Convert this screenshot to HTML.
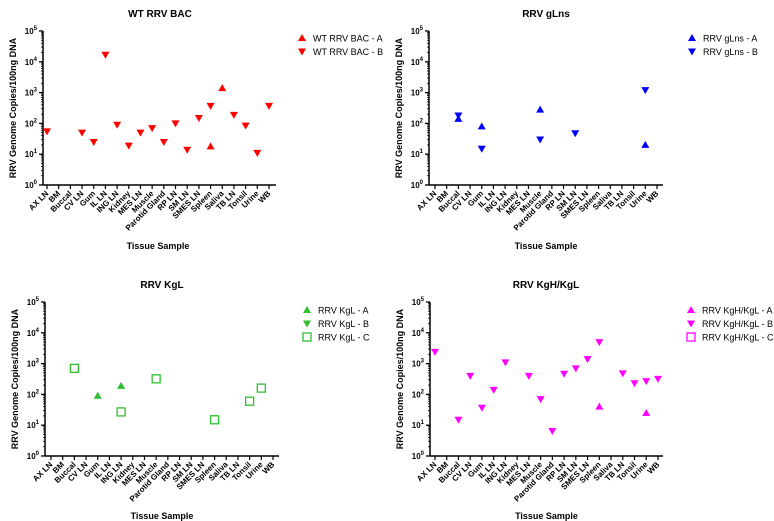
<!DOCTYPE html>
<html><head><meta charset="utf-8">
<style>
html,body{margin:0;padding:0;background:#fff;}
svg{display:block;font-family:"Liberation Sans",Arial,sans-serif;}
</style></head>
<body>
<svg id="c" width="774" height="521" viewBox="0 0 774 521" xmlns="http://www.w3.org/2000/svg"></svg>
<script>
const categories = ["AX LN","BM","Buccal","CV LN","Gum","IL LN","ING LN","Kidney","MES LN","Muscle","Parotid Gland","RP LN","SM LN","SMES LN","Spleen","Saliva","TB LN","Tonsil","Urine","WB"];
const yTickExps = [0,1,2,3,4,5];
// WT RRV BAC
const wtA = {"Spleen":18,"Saliva":1400};
const wtB = {"AX LN":55,"CV LN":50,"Gum":25,"IL LN":17000,"ING LN":90,"Kidney":19,"MES LN":50,"Muscle":70,"Parotid Gland":25,"RP LN":100,"SM LN":14,"SMES LN":150,"Spleen":370,"TB LN":190,"Tonsil":85,"Urine":11,"WB":370};
// RRV gLns
const glA = {"Buccal":140,"Gum":80,"Muscle":280,"Urine":20};
const glB = {"Buccal":180,"Gum":15,"Muscle":30,"SM LN":48,"Urine":1200};
// RRV KgL
const kgA = {"Gum":90,"ING LN":190};
const kgB = {};
const kgC = {"Buccal":700,"ING LN":27,"Muscle":320,"Spleen":15,"Tonsil":60,"Urine":160};
// RRV KgH/KgL
const khA = {"Spleen":40,"Urine":25};
const khB = {"AX LN":2400,"Buccal":15,"CV LN":400,"Gum":37,"IL LN":140,"ING LN":1100,"MES LN":400,"Muscle":70,"Parotid Gland":6.5,"RP LN":470,"SM LN":700,"SMES LN":1400,"Spleen":5000,"TB LN":480,"Tonsil":230,"Urine":270,"WB":320};
const khC = {};

const NS="http://www.w3.org/2000/svg";
const svg=document.getElementById('c');
function mk(tag,attrs,parent){const e=document.createElementNS(NS,tag);for(const k in attrs)e.setAttribute(k,attrs[k]);(parent||svg).appendChild(e);return e;}

function marker(g,type,x,y,color){
  let e;
  if(type==='up') e=mk('polygon',{points:`${x},${y-4} ${x-4},${y+3} ${x+4},${y+3}`,fill:color},g);
  else if(type==='down') e=mk('polygon',{points:`${x-4},${y-3} ${x+4},${y-3} ${x},${y+4}`,fill:color},g);
  else e=mk('rect',{x:x-4,y:y-4,width:8,height:8,fill:'none',stroke:color,'stroke-width':1.3},g);
  return e;
}

function panel(p){
  const g=mk('g',{});
  
  
  const yS=v=>p.bottom-Math.log10(v)*(p.bottom-p.top)/5;
  const xS=i=>p.x0+i*(p.x1-p.x0)/(categories.length-1);
  let t=mk('text',{x:p.tc,y:p.top-14,'text-anchor':'middle','font-size':10,'font-weight':'bold'},g);t.textContent=p.title;
  
  // axes
  const ax=mk('g',{stroke:'#000','stroke-width':1.5},g);
  
  mk('line',{x1:p.ax,y1:p.top,x2:p.ax,y2:p.bottom},ax);
  mk('line',{x1:p.ax,y1:p.bottom,x2:p.xend,y2:p.bottom},ax);
  yTickExps.forEach(e=>{
    const y=yS(Math.pow(10,e));
    mk('line',{x1:p.ax-4,y1:y,x2:p.ax,y2:y,'stroke-width':1.3},ax);
    if(e<5)for(let m=2;m<10;m++){const yy=yS(m*Math.pow(10,e));mk('line',{x1:p.ax-2,y1:yy,x2:p.ax,y2:yy,'stroke-width':0.8},ax);}
    const tx=mk('text',{x:p.ax-6,y:y+3,'text-anchor':'end','font-size':8,'font-weight':'bold',stroke:'none'},g);
    tx.textContent='10';
    const sp=mk('tspan',{dy:-4,'font-size':6},tx);sp.textContent=e;
  });
  categories.forEach((c,i)=>{
    const x=xS(i);
    mk('line',{x1:x,y1:p.bottom,x2:x,y2:p.bottom+4,stroke:'#000','stroke-width':1.2},g);
    const tx=mk('text',{x:x+2,y:p.bottom+9,'text-anchor':'end','font-size':8,'font-weight':'bold',transform:`rotate(-45 ${x+2} ${p.bottom+9})`},g);
    tx.textContent=c;
    
  });
  const yl=mk('text',{x:0,y:0,'text-anchor':'middle','font-size':9,'font-weight':'bold',transform:`translate(${p.ax-27} ${(p.top+p.bottom)/2}) rotate(-90)`},g);
  yl.textContent='RRV Genome Copies/100ng DNA';
  
  const xl=mk('text',{x:(p.x0+p.x1)/2,y:p.xty,'text-anchor':'middle','font-size':9,'font-weight':'bold'},g);
  xl.textContent='Tissue Sample';
  
  p.series.forEach((s,si)=>{
    categories.forEach((c,i)=>{
      if(s.data[c]===undefined)return;
      const m=marker(g,s.type,xS(i),yS(s.data[c]),p.color);
      
      
    });
    const ly=p.ly+si*13.5;
    const lg=mk('g',{},g);
    
    
    marker(lg,s.type,p.lx,ly,p.color);
    const lt=mk('text',{x:p.lx+11,y:ly+3.5,'font-size':9},lg);lt.textContent=s.name;
  });
}

panel({id:'wt',title:'WT RRV BAC',color:'#ff0000',ax:43,top:31,bottom:185,x0:47,x1:269,xend:276,tc:160,xty:249,lx:302,ly:38,
  series:[{name:'WT RRV BAC - A',type:'up',data:wtA},{name:'WT RRV BAC - B',type:'down',data:wtB}]});
panel({id:'glns',title:'RRV gLns',color:'#0000ff',ax:429,top:31,bottom:185,x0:435,x1:657,xend:663,tc:546,xty:249,lx:692,ly:38,
  series:[{name:'RRV gLns - A',type:'up',data:glA},{name:'RRV gLns - B',type:'down',data:glB}]});
panel({id:'kgl',title:'RRV KgL',color:'#2fbf2f',ax:45,top:302,bottom:456,x0:51,x1:273,xend:279,tc:162,xty:519,lx:307,ly:310,
  series:[{name:'RRV KgL - A',type:'up',data:kgA},{name:'RRV KgL - B',type:'down',data:kgB},{name:'RRV KgL - C',type:'sq',data:kgC}]});
panel({id:'kgh',title:'RRV KgH/KgL',color:'#ff00ff',ax:430,top:302,bottom:456,x0:435,x1:658,xend:663,tc:546,xty:519,lx:691,ly:310,
  series:[{name:'RRV KgH/KgL - A',type:'up',data:khA},{name:'RRV KgH/KgL - B',type:'down',data:khB},{name:'RRV KgH/KgL - C',type:'sq',data:khC}]});
</script>
</body></html>
